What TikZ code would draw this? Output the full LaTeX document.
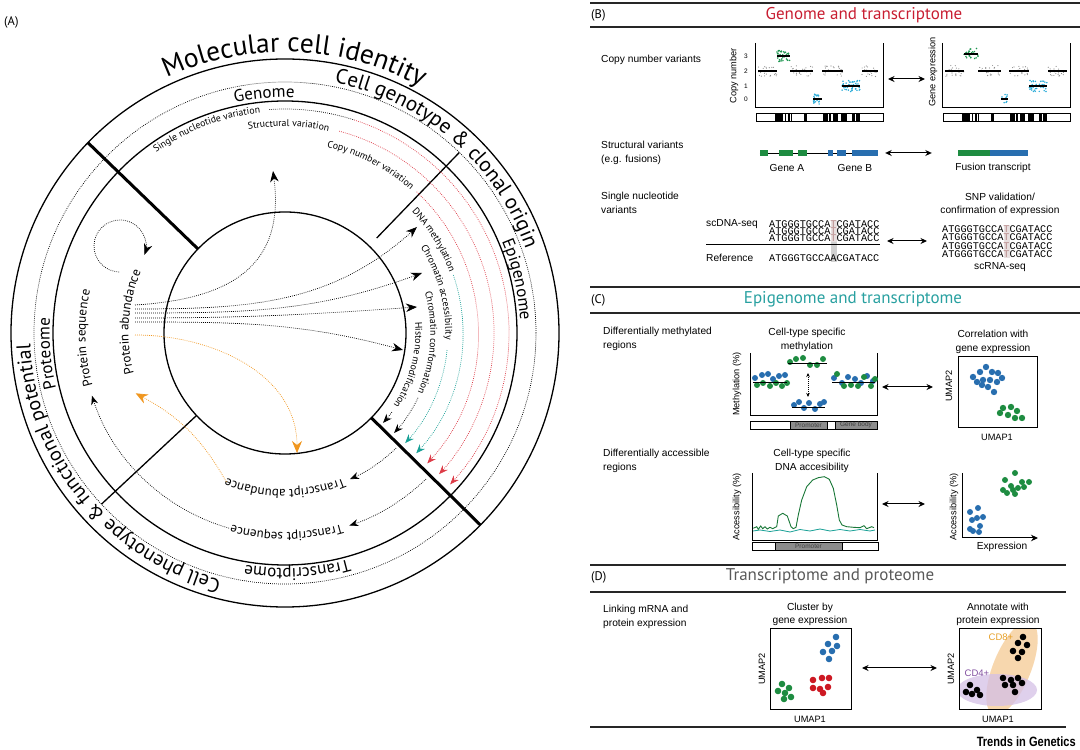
\documentclass[tikz,border=0pt]{standalone}
\usepackage{fontspec}
\setmainfont{PT Sans}
\newfontfamily\arialf{Liberation Sans}
\newfontfamily\trendsf[FakeStretch=0.82]{Liberation Sans}
\newfontfamily\monof{Liberation Mono}
\usetikzlibrary{arrows.meta,positioning,decorations.text}
\definecolor{genred}{RGB}{200,30,50}
\definecolor{epiteal}{RGB}{40,160,160}
\definecolor{arrred}{RGB}{215,25,40}
\definecolor{arrteal}{RGB}{25,160,150}
\definecolor{protorange}{RGB}{240,150,30}
\definecolor{dotblue}{RGB}{40,110,175}
\definecolor{dotgreen}{RGB}{30,140,65}
\definecolor{dotred}{RGB}{205,25,35}
\definecolor{cnvcyan}{RGB}{40,170,215}
\definecolor{cnvgreen}{RGB}{30,150,80}
\definecolor{cdorange}{RGB}{246,208,160}
\definecolor{cdpurple}{RGB}{212,192,230}
\definecolor{cdtext}{RGB}{230,160,40}
\definecolor{cdviolet}{RGB}{130,80,160}

% one copy-number segment: x from, x to, level, dot colour, dots, dot radius
\newcommand{\cnvseg}[6]{%
  \foreach \k in {1,...,#5}{\fill[#4] ({#1+rnd*(#2-#1)},{#3+(rnd-0.5)*11}) circle[radius=#6];}
  \draw[line width=1.8pt] (#1,#3) -- (#2,#3);}

\begin{document}
\begin{tikzpicture}[x=1pt, y=1pt,
    ring/.style={line width=1.3pt},
    divthick/.style={line width=3pt},
    divthin/.style={line width=1.3pt},
    dotline/.style={line width=0.7pt, dash pattern=on 0.8pt off 1.2pt},
    arctext/.style 2 args={decorate, decoration={text along path, text align=center,
        text={|\fontsize{#1}{#1}\selectfont|#2}}},
    bigtip/.style={-{Stealth[length=11pt,width=8.5pt,inset=3.5pt]}},
    smalltip/.style={-{Stealth[length=9pt,width=7pt,inset=3pt]}},
    redarc/.style={dotline, draw=arrred!85, smalltip},
    tealarc/.style={dotline, draw=arrteal, smalltip},
    blackarc/.style={dotline, smalltip},
    orangearc/.style={dotline, draw=protorange, -{Stealth[length=12pt,width=10pt,inset=4pt]}},
    rule/.style={line width=1.1pt, draw=black!85},
    hdr/.style={font=\fontsize{17}{19}\selectfont, inner sep=0pt},
    plbl/.style={font=\fontsize{12.5}{14}\selectfont, inner sep=0pt, anchor=west},
    lbl/.style={font=\arialf\fontsize{10.2}{13.5}\selectfont, align=left, inner sep=0pt, anchor=north west},
    ctitle/.style={font=\arialf\fontsize{10.2}{13.5}\selectfont, align=center, inner sep=0pt},
    axlbl/.style={font=\arialf\fontsize{9.2}{10}\selectfont, inner sep=0pt},
    seq/.style={font=\monof\fontsize{10.2}{10}\selectfont, inner sep=0pt, anchor=west},
    dbl/.style={{Stealth[length=6.5pt,width=6pt]}-{Stealth[length=6.5pt,width=6pt]}, line width=1pt},
    umapbox/.style={draw, line width=1pt}
  ]
\pgfmathsetseed{7}
\useasboundingbox (0,0) rectangle (1080,750);

% ---------------- (A) ----------------
\node[plbl] (labA) at (4,728) {(A)};
\begin{scope}[shift={(285,417)}]
  \draw[ring] (0,0) circle[radius=274];
  \draw[dotline] (0,0) circle[radius=251];
  \draw[ring] (0,0) circle[radius=232];
  \draw[ring] (0,0) circle[radius=121];
  \draw[divthick] (136:121) -- (136:274);
  \draw[divthick] (-44.5:121) -- (-44.5:274);
  \draw[divthin] (46:132) -- (46:251);
  \draw[divthin] (223:121) -- (223:251);

  % outer titles
  \path[arctext={27.5}{Molecular cell identity}] (132:281) arc[start angle=132, end angle=44, radius=281];
  \path[arctext={21}{Cell genotype {\&} clonal origin}] (102:255) arc[start angle=102, end angle=-4, radius=255];
  \path[arctext={20}{Cell phenotype {\&} functional potential}] (275:255) arc[start angle=275, end angle=163, radius=255];
  \path[arctext={17}{Genome}] (115:235.5) arc[start angle=115, end angle=75, radius=235.5];
  \path[arctext={17}{Epigenome}] (38:235.5) arc[start angle=38, end angle=-12, radius=235.5];
  \path[arctext={17}{Transcriptome}] (-57:235.5) arc[start angle=-57, end angle=-117, radius=235.5];
  \path[arctext={17}{Proteome}] (210:235.5) arc[start angle=210, end angle=160, radius=235.5];

  % genome layer
  \path[arctext={9.8}{Single nucleotide variation}] (131:221.5) arc[start angle=131, end angle=91, radius=221.5];
  \path[arctext={9.8}{Structural variation}] (109:206.5) arc[start angle=109, end angle=69, radius=206.5];
  \path[arctext={9.8}{Copy number variation}] (83:190.5) arc[start angle=83, end angle=43, radius=190.5];
  \draw[dotline] (94:224) arc[start angle=94, end angle=72, radius=224];
  \draw[redarc] (72:224) arc[start angle=72, end angle=-42.5, radius=224];
  \draw[redarc] (75:209) arc[start angle=75, end angle=-42.5, radius=209];
  \draw[redarc] (47:193) arc[start angle=47, end angle=-42.5, radius=193];

  % epigenome layer
  \path[arctext={9.8}{DNA methylation}] (52:175.5) arc[start angle=52, end angle=12, radius=175.5];
  \path[arctext={9.8}{Chromatin accessibility}] (40:160.5) arc[start angle=40, end angle=-10, radius=160.5];
  \path[arctext={9.8}{Chromatin conformation}] (26:145.5) arc[start angle=26, end angle=-34, radius=145.5];
  \path[arctext={9.8}{Histone modification}] (15.5:130.5) arc[start angle=15.5, end angle=-44.5, radius=130.5];
  \draw[tealarc] (19:178) arc[start angle=19, end angle=-42.5, radius=178];
  \draw[tealarc] (-6:163) arc[start angle=-6, end angle=-42.5, radius=163];
  \draw[blackarc] (-26:148) arc[start angle=-26, end angle=-42.5, radius=148];
  \draw[blackarc] (-36.5:133) arc[start angle=-36.5, end angle=-42.5, radius=133];

  % transcriptome layer
  \path[arctext={13}{Transcript abundance}] (-60:156.5) arc[start angle=-60, end angle=-120, radius=156.5];
  \path[arctext={13}{Transcript sequence}] (-59.5:199.5) arc[start angle=-59.5, end angle=-119.5, radius=199.5];
  \draw[blackarc] (-46:160) arc[start angle=-46, end angle=-66, radius=160];
  \draw[blackarc] (-46:203) arc[start angle=-46, end angle=-71.5, radius=203];
  \draw[blackarc] (254:203) arc[start angle=254, end angle=198, radius=203];

  % proteome layer
  \path[arctext={13}{Protein sequence}] (211.5:199.5) arc[start angle=211.5, end angle=151.5, radius=199.5];
  \path[arctext={13}{Protein abundance}] (206:156.5) arc[start angle=206, end angle=146, radius=156.5];

  % links from protein abundance
  \coordinate (loop) at (-165,87);
  \coordinate (pG) at (-150,28);
  \coordinate (pD) at (-150,24);
  \coordinate (pA) at (-150,20);
  \coordinate (pC) at (-150,15);
  \coordinate (pH) at (-150,11);
  \coordinate (pO) at (-150,-2);
  \coordinate (tG) at (-12,162);
  \coordinate (tD) at (132,106);
  \coordinate (tA) at (137,60);
  \coordinate (tC) at (132,26);
  \coordinate (tH) at (118,-17);
  \coordinate (tO) at (12,-120);
  \coordinate (tAb) at (248.5:160);
  \coordinate (tPa) at (202:161);

  \draw[dotline, bigtip] (loop) ++(268:26) arc[start angle=268, end angle=-20, radius=26];
  \draw[dotline, bigtip] (pG) .. controls (-50,34) and (0,70) .. (tG);
  \draw[dotline, bigtip] (pD) to[out=0, in=222] (tD);
  \draw[dotline, bigtip] (pA) to[out=0, in=200] (tA);
  \draw[dotline, bigtip] (pC) to[out=0, in=184] (tC);
  \draw[dotline, bigtip] (pH) to[out=0, in=165] (tH);
  \draw[orangearc] (pO) to[out=0, in=90] (tO);
  \draw[orangearc] (tAb) to[bend right=16] (tPa);
\end{scope}

% ---------------- (B), (C), (D) ----------------
\begin{scope}[shift={(0,750)}, y=-1pt]
  \draw[rule] (590,3) -- (1080,3);
  \draw[rule] (590,27) -- (1080,27);
  \draw[rule] (590,287) -- (1080,287);
  \draw[rule] (590,313) -- (1080,313);
  \draw[rule] (590,565) -- (1066,565);
  \draw[rule] (590,592) -- (1066,592);
  \draw[rule] (590,727) -- (1066,727);

  % (B) genome and transcriptome
  \node[plbl] (labB) at (591,15) {(B)};
  \node[hdr, text=genred] (hdrB) at (864,15) {Genome and transcriptome};

  \node[lbl] (cnvlab) at (601,55) {Copy number variants};
  \node[inner sep=0pt, minimum width=127pt, minimum height=64pt] (cnvL) at (819.5,75) {};
  \node[inner sep=0pt, minimum width=127pt, minimum height=64pt] (cnvR) at (1006.5,75) {};
  \draw[line width=0.9pt] (cnvL.north west) -- (cnvL.south west) -- (cnvL.south east) -- (cnvL.north east);
  \draw[line width=0.9pt] (cnvR.north west) -- (cnvR.south west) -- (cnvR.south east) -- (cnvR.north east);
  \node[axlbl, rotate=90] (cnvLy) at (734,76) {Copy number};
  \node[axlbl, rotate=90] (cnvRy) at (933,72) {Gene expression};
  \foreach \v/\y in {3/56, 2/71, 1/86, 0/99}
    \node[font=\arialf\fontsize{6.5}{7}\selectfont, inner sep=0pt] at (746,\y) {\v};
  \cnvseg{758}{777}{71}{black!45}{24}{0.6}
  \cnvseg{777}{790}{56}{cnvgreen}{40}{0.85}
  \cnvseg{790}{813}{71}{black!45}{24}{0.6}
  \cnvseg{813}{822}{99}{cnvcyan}{22}{0.85}
  \cnvseg{822}{843}{71}{black!45}{24}{0.6}
  \cnvseg{842}{860}{86}{cnvcyan}{45}{0.85}
  \cnvseg{862}{878}{71}{black!45}{22}{0.6}
  \cnvseg{945}{964}{71}{black!45}{24}{0.6}
  \cnvseg{964}{978}{54}{cnvgreen}{30}{0.85}
  \cnvseg{978}{1001}{71}{black!45}{24}{0.6}
  \cnvseg{1001}{1008}{99}{cnvcyan}{10}{0.85}
  \cnvseg{1009}{1029}{71}{black!45}{24}{0.6}
  \cnvseg{1029}{1047}{86}{cnvcyan}{40}{0.85}
  \cnvseg{1048}{1067}{71}{black!45}{22}{0.6}
  \foreach \xo in {756, 943}{
    \draw[line width=0.6pt] (\xo,113) rectangle ({\xo+127},121);
    \foreach \a/\b in {0.147/0.21, 0.226/0.239, 0.252/0.265, 0.273/0.286, 0.375/0.40, 0.525/0.564,
                       0.575/0.59, 0.604/0.643, 0.669/0.717, 0.753/0.777, 0.79/0.82}
      \fill ({\xo+127*\a},113) rectangle ({\xo+127*\b},121);
  }
  \coordinate (cnvA) at (888,79);
  \coordinate (cnvB) at (925,79);
  \draw[dbl] (cnvA) -- (cnvB);

  \node[lbl] (svlab) at (601,141) {Structural variants\\(e.g. fusions)};
  \node[inner sep=0pt, minimum width=118pt, minimum height=6pt] (genes) at (819,153) {};
  \draw[line width=0.8pt] (genes.west) -- (genes.east);
  \foreach \a/\b in {760/768, 779/793, 798/807} \fill[dotgreen] (\a,150) rectangle (\b,156);
  \foreach \a/\b in {828/833, 837/846, 852/878} \fill[dotblue] (\a,150) rectangle (\b,156);
  \node[ctitle] (geneA) at (787,168) {Gene A};
  \node[ctitle] (geneB) at (855,168) {Gene B};
  \node[inner sep=0pt, minimum width=70pt, minimum height=6pt] (fusion) at (993,153) {};
  \fill[dotgreen] (958,150) rectangle (990,156);
  \fill[dotblue] (990,150) rectangle (1028,156);
  \node[ctitle] (fuslab) at (993,168) {Fusion transcript};
  \draw[dbl] ([xshift=7pt]genes.east) -- ([xshift=-26pt]fusion.west);

  \node[lbl] (snvlab) at (601,192) {Single nucleotide\\variants};
  \fill[red!25!black!12] (830.5,220) rectangle (836.8,242);
  \fill[black!18] (830.5,242) rectangle (836.8,262);
  \fill[red!25!black!12] (1003.5,225) rectangle (1009.8,258);
  \node[font=\arialf\fontsize{10.2}{11}\selectfont, inner sep=0pt, anchor=west] (scdna) at (706,224) {scDNA-seq};
  \node[seq] (dna1) at (769,224) {ATGGGTGCCA\textcolor{red!40!black!45}{T}CGATACC};
  \node[seq] (dna2) at (769,231) {ATGGGTGCCA\textcolor{red!40!black!45}{T}CGATACC};
  \node[seq] (dna3) at (769,238) {ATGGGTGCCA\textcolor{red!40!black!45}{T}CGATACC};
  \draw[line width=0.6pt] (706,244) -- (880,244);
  \node[font=\arialf\fontsize{10.2}{11}\selectfont, inner sep=0pt, anchor=west] (reflab) at (706,258) {Reference};
  \node[seq] (ref) at (769,258) {ATGGGTGCCAACGATACC};
  \node[ctitle] (snplab) at (1000,204.5) {SNP validation/\\confirmation of expression};
  \foreach \y [count=\i] in {229, 237, 246, 254}
    \node[seq] (rna\i) at (942,\y) {ATGGGTGCCA\textcolor{red!40!black!45}{T}CGATACC};
  \node[ctitle] (scrna) at (1000,267) {scRNA-seq};
  \coordinate (snvA) at (887,241);
  \coordinate (snvB) at (927,241);
  \draw[dbl] (snvA) -- (snvB);

  % (C) epigenome and transcriptome
  \node[plbl] (labC) at (591,300) {(C)};
  \node[hdr, text=epiteal] (hdrC) at (853,299) {Epigenome and transcriptome};

  \node[lbl] (dmrlab) at (603,327) {Differentially methylated\\regions};
  \node[ctitle] (methlab) at (807,340) {Cell-type specific\\methylation};
  \draw[line width=0.9pt] (750,353) -- (750,415) -- (877,415) -- (877,353);
  \node[axlbl, rotate=90] (methy) at (737,384) {Methylation (\%)};
  \draw[line width=0.6pt] (750,421) rectangle (877,429);
  \draw[line width=0.6pt, fill=black!45] (790,421) rectangle (827,429);
  \draw[line width=0.6pt, fill=black!45] (835,421) rectangle (877,429);
  \node[font=\arialf\fontsize{6.5}{6}\selectfont, text=black!75, inner sep=0pt] at (808.5,425) {Promoter};
  \node[font=\arialf\fontsize{6.5}{6}\selectfont, text=black!75, inner sep=0pt] at (856,425) {Gene body};
  \foreach \x/\y in {755/378, 762/375, 768/374, 773/379, 779/376, 785/375,
                     794/405, 799/402, 804/408, 809/403, 815/409, 820/404, 824/402,
                     834/378, 842/383, 848/377, 855/379, 861/383, 867/376, 873/381}
    \fill[dotblue] (\x,\y) circle[radius=3];
  \foreach \x/\y in {757/385, 763/383, 770/386, 776/383, 782/386, 787/383,
                     790/362, 796/359, 803/358, 810/365, 817/365, 823/359,
                     837/374, 844/386, 851/385, 858/386, 864/377, 871/386, 875/379}
    \fill[dotgreen] (\x,\y) circle[radius=3];
  \draw[line width=0.9pt] (753,382) -- (787,382);
  \draw[line width=0.9pt] (788,363) -- (827,363);
  \draw[line width=0.9pt] (792,407) -- (825,407);
  \draw[line width=0.9pt] (832,382) -- (875,382);
  \coordinate (mtop) at (808,373);
  \coordinate (mbot) at (808,397);
  \draw[dotline, {Stealth[length=4pt,width=3.5pt]}-{Stealth[length=4pt,width=3.5pt]}] (mtop) -- (mbot);
  \coordinate (dmrA) at (882,387);
  \coordinate (dmrB) at (933,387);
  \draw[dbl] (dmrA) -- (dmrB);
  \node[ctitle] (corrlab) at (993,342) {Correlation with\\gene expression};
  \node[umapbox, minimum width=79pt, minimum height=71pt, inner sep=0pt] (umapC) at (997.5,392.5) {};
  \node[axlbl, rotate=90] (umapCy) at (949,386) {UMAP2};
  \node[axlbl] (umapCx) at (997,437) {UMAP1};
  \foreach \x/\y in {973/377, 980/372, 986/367, 992/372, 998/373, 977/382, 983/380,
                     990/380, 997/382, 1002/378, 982/385, 988/387, 994/392}
    \fill[dotblue] (\x,\y) circle[radius=3.2];
  \foreach \x/\y in {1003/408, 1011/407, 1017/411, 1000/413, 1008/415, 1015/418, 1022/418}
    \fill[dotgreen] (\x,\y) circle[radius=3.2];

  \node[lbl] (darlab) at (603,449) {Differentially accessible\\regions};
  \node[ctitle] (acclab) at (812,461) {Cell-type specific\\DNA accesibility};
  \draw[line width=0.9pt] (752,473) -- (752,540) -- (877,540) -- (877,473);
  \node[axlbl, rotate=90] (accy) at (737,507) {Accessibility (\%)};
  \draw[line width=0.6pt] (752,542) rectangle (878,550);
  \draw[line width=0.6pt, fill=black!45] (775,542) rectangle (842,550);
  \node[font=\arialf\fontsize{6.5}{6}\selectfont, text=black!75, inner sep=0pt] at (808.5,546) {Promoter};
  \draw[line width=0.8pt, draw=arrteal] (753,531) -- (760,530) -- (770,531.5) -- (780,530) -- (790,532)
    -- (800,529.5) -- (810,531) -- (820,529) -- (830,531) -- (840,529.5) -- (850,531) -- (860,529.5)
    -- (870,531) -- (875,530);
  \draw[line width=0.9pt, draw=dotgreen!85!black] (753.3,528.3) -- (756.7,526.7) -- (758.3,529.3) -- (760.7,526)
    -- (762.7,528.7) -- (765,526.7) -- (767.3,529) -- (770,527.3) -- (772.7,528.7) -- (775.3,527.3)
    -- (776.7,526.7) -- (778.3,516) -- (782.7,513.3) -- (787.3,516) -- (791,526.7) -- (793.3,528.7)
    -- (796,527.3) -- (798.3,515) -- (801.7,500) -- (806.7,486.7) -- (812.7,480) -- (818.3,477.7)
    -- (824.3,476.7) -- (829.3,479.3) -- (833.3,488.3) -- (836.7,505) -- (839.3,520) -- (842,525)
    -- (846.7,526.7) -- (853.3,527.3) -- (860,527.7) -- (864,525.7) -- (866.7,528.7) -- (871.7,526.7)
    -- (874,527.7);
  \coordinate (darA) at (882,504);
  \coordinate (darB) at (925,504);
  \draw[dbl] (darA) -- (darB);
  \coordinate (axo) at (962,538);
  \draw[line width=1pt, -{Stealth[length=7pt,width=6.5pt]}] (962,473) -- (axo) -- (1038,538);
  \node[axlbl, rotate=90] (accsy) at (954,507) {Accessibility (\%)};
  \node[font=\arialf\fontsize{10.2}{11}\selectfont, inner sep=0pt] (exprlab) at (1002,547) {Expression};
  \foreach \x/\y in {970/512, 978/508, 972/520, 977/518, 983/517, 970/529, 980/526, 979/532, 973/531}
    \fill[dotblue] (\x,\y) circle[radius=3];
  \foreach \x/\y in {1005/480, 1015/473, 1022/482, 1003/490, 1011/486, 1018/488, 1029/482,
                     1007/493, 1015/494, 1024/487, 1013/490}
    \fill[dotgreen] (\x,\y) circle[radius=3];

  % (D) transcriptome and proteome
  \node[plbl] (labD) at (591,577) {(D)};
  \node[hdr, text=black!65] (hdrD) at (830,576) {Transcriptome and proteome};

  \node[lbl] (linklab) at (603,605) {Linking mRNA and\\protein expression};
  \node[ctitle] (clulab) at (810,614.5) {Cluster by\\gene expression};
  \node[umapbox, minimum width=81pt, minimum height=81pt, inner sep=0pt] (umapD1) at (810.5,669.5) {};
  \node[axlbl, rotate=90] (umapD1y) at (762,669) {UMAP2};
  \node[axlbl] (umapD1x) at (810,719) {UMAP1};
  \foreach \x/\y in {836/637, 828/644, 837/646, 823/652, 832/651, 829/659}
    \fill[dotblue] (\x,\y) circle[radius=3.3];
  \foreach \x/\y in {813/680, 822/678, 829/678, 813/688, 820/689, 828/687, 823/693}
    \fill[dotred] (\x,\y) circle[radius=3.3];
  \foreach \x/\y in {782/684, 789/688, 778/691, 785/693, 791/697, 784/699}
    \fill[dotgreen] (\x,\y) circle[radius=3.3];
  \coordinate (linkA) at (862,668);
  \coordinate (linkB) at (937,668);
  \draw[dbl] (linkA) -- (linkB);
  \node[ctitle] (annlab) at (998,614.5) {Annotate with\\protein expression};
  \begin{scope}
    \clip (959,629) rectangle (1041,710);
    \fill[cdorange, opacity=0.85, shift={(1012,668)}, rotate=68] (0,0) ellipse[x radius=50, y radius=19];
    \fill[cdpurple, opacity=0.75] (997,690) ellipse[x radius=40, y radius=16];
  \end{scope}
  \node[umapbox, minimum width=82pt, minimum height=81pt, inner sep=0pt] (umapD2) at (1000,669.5) {};
  \node[axlbl, rotate=90] (umapD2y) at (951,669) {UMAP2};
  \node[axlbl] (umapD2x) at (998,719) {UMAP1};
  \node[font=\arialf\fontsize{9.5}{10}\selectfont, text=cdtext, inner sep=0pt] (cd8) at (1001,637) {CD8+};
  \node[font=\arialf\fontsize{9.5}{10}\selectfont, text=cdviolet, inner sep=0pt] (cd4) at (977,673) {CD4+};
  \foreach \x/\y in {1023/637, 1018/643, 1027/645, 1013/651, 1022/652, 1018/658,
                     1003/678, 1011/680, 1018/678, 1005/685, 1013/685, 1022/683, 1015/692,
                     970/685, 977/690, 972/694, 980/695, 966/692}
    \fill[black] (\x,\y) circle[radius=3.3];

  \node[font=\trendsf\bfseries\fontsize{13.5}{14}\selectfont, inner sep=0pt, anchor=east] (trends) at (1076,742) {Trends in Genetics};
\end{scope}
\end{tikzpicture}
\end{document}
